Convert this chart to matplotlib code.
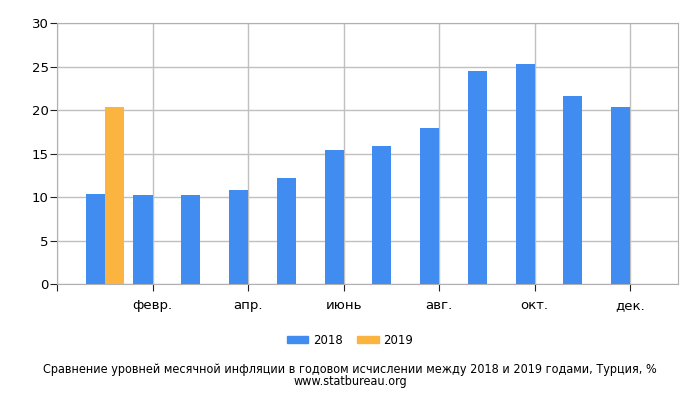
import numpy as np
import matplotlib
matplotlib.use("Agg")
import matplotlib.pyplot as plt
from matplotlib.patches import Patch

# индекс инфляции в годовом исчислении, Турция, %
meses = ["янв.", "февр.", "март", "апр.", "май", "июнь", "июль", "авг.", "сент.", "окт.", "нояб.", "дек."]
valores_2018 = [10.35, 10.26, 10.23, 10.85, 12.15, 15.39, 15.85, 17.90, 24.52, 25.24, 21.62, 20.30]
valores_2019 = [20.35]
anos = ["2018", "2019"]
cores = ["#418CF0", "#FCB441"]

fig = plt.figure(figsize=(7, 4), dpi=100)
ax = fig.add_axes([0.0814, 0.29, 0.8872, 0.6525])

x = np.arange(len(meses))
largura = 0.4
ax.bar(x - largura / 2, valores_2018, width=largura, color=cores[0], zorder=3)
ax.bar(x[:len(valores_2019)] + largura / 2, valores_2019, width=largura, color=cores[1], zorder=3)

ax.set_xlim(-1, 12)
ax.set_ylim(0, 30)
ax.set_yticks(range(0, 31, 5))
ax.set_xticks([-1] + list(x[1::2]))
ax.set_xticklabels([""] + meses[1::2])

ax.grid(True, color="#c0c0c0", linewidth=1, zorder=0)
for lado in ["left", "bottom", "top", "right"]:
    ax.spines[lado].set_color("#b0b0b0")
ax.tick_params(axis="y", length=5, color="#222222", labelsize=9.5, pad=1)
ax.tick_params(axis="x", length=5, direction="out", color="#222222", labelsize=9.5, pad=6)

legenda = [Patch(color=c, label=a) for c, a in zip(cores, anos)]
fig.legend(handles=legenda, loc="center", bbox_to_anchor=(0.5, 0.15), ncol=2, frameon=False,
           fontsize=8.5, handlelength=1.85, handleheight=0.6, columnspacing=1.2, handletextpad=0.4)

fig.text(0.5, 0.075, "Сравнение уровней месячной инфляции в годовом исчислении между 2018 и 2019 годами, Турция, %",
         ha="center", va="center", fontsize=9, fontstretch="condensed")
fig.text(0.5, 0.045, "www.statbureau.org", ha="center", va="center", fontsize=9, fontstretch="condensed")

fig.savefig("out.png", dpi=100)
